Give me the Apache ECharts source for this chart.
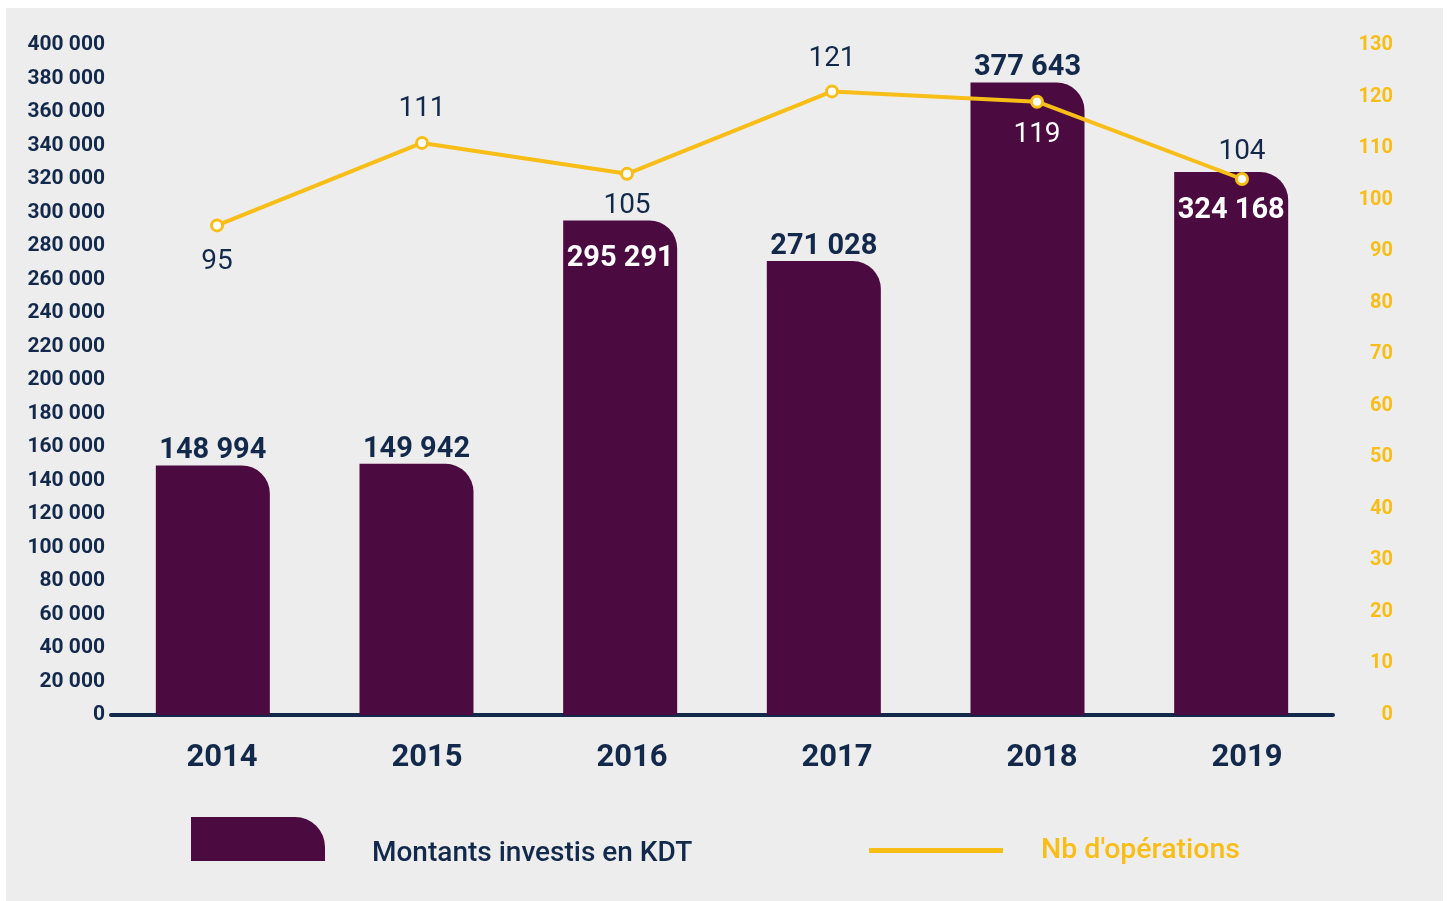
<!DOCTYPE html>
<html>
<head>
    <meta charset="utf-8">
    <title>Montants investis</title>
    <script src="https://cdn.jsdelivr.net/npm/echarts@6/dist/echarts.min.js"></script>
    <style>
        body { margin: 0; background: #ffffff; }
        #chart { position: absolute; left: 6px; top: 8px; width: 1437px; height: 893px; }
    </style>
</head>
<body>
<div id="chart"></div>
<script type="text/javascript">
    // données
    var years = ['2014', '2015', '2016', '2017', '2018', '2019'];
    var montants = [148994, 149942, 295291, 271028, 377643, 324168];
    var operations = [95, 111, 105, 121, 119, 104];

    // placement des étiquettes
    var barLabelInside = [false, false, true, false, false, true];
    var lineLabelBelow = [true, false, true, false, true, false];
    var lineLabelDist = [16, 13, 11, 11, 12, 6];

    var NAVY = '#13294b';
    var PURPLE = '#4b0a40';
    var YELLOW = '#f8bd17';
    var FONT = 'Roboto';
    var BAR_NAME = 'Montants investis en KDT';
    var LINE_NAME = 'Nb d\'opérations';

    function fmt(v) {
        return String(v).replace(/\B(?=(\d{3})+(?!\d))/g, ' ');
    }

    var barData = montants.map(function (v, i) {
        var inside = barLabelInside[i];
        return {
            value: v,
            label: {
                position: inside ? 'insideTop' : 'top',
                distance: inside ? 24 : 0,
                color: inside ? '#ffffff' : NAVY
            }
        };
    });

    var lineData = operations.map(function (v, i) {
        var below = lineLabelBelow[i];
        return {
            value: v,
            label: {
                position: below ? 'bottom' : 'top',
                distance: lineLabelDist[i],
                color: (i === 4) ? '#ffffff' : NAVY
            }
        };
    });

    var chart = echarts.init(document.getElementById('chart'));
    chart.setOption({
        backgroundColor: '#ededed',
        animation: false,
        textStyle: { fontFamily: FONT },
        grid: [
            { left: 105, right: 110, top: 37, bottom: 186 },
            // la courbe est un peu décalée par rapport aux barres
            { left: 108.5, right: 98.5, top: 37, bottom: 186 }
        ],
        legend: [{
            // icône de la barre
            data: [BAR_NAME],
            left: 180, top: 804,
            itemWidth: 134, itemHeight: 44,
            icon: 'path://M0,0 H104 A30,30 0 0 1 134,30 V44 H0 Z',
            formatter: function () { return ''; }
        }, {
            // texte de la barre
            data: [BAR_NAME],
            left: 355, top: 826,
            itemWidth: 1, itemHeight: 30,
            icon: 'rect',
            itemStyle: { opacity: 0 },
            textStyle: { color: NAVY, fontSize: 28, fontWeight: 500, fontFamily: FONT }
        }, {
            data: [LINE_NAME],
            left: 858, top: 823,
            itemWidth: 134, itemHeight: 5,
            icon: 'rect',
            itemStyle: { color: YELLOW, borderColor: YELLOW, borderWidth: 0 },
            textStyle: { color: YELLOW, fontSize: 28.5, fontWeight: 500, fontFamily: FONT, padding: [0, 0, 0, 33] }
        }],
        xAxis: [{
            type: 'category',
            gridIndex: 0,
            data: years,
            axisLine: { lineStyle: { color: NAVY, width: 4 } },
            axisTick: { show: false },
            axisLabel: { show: false }
        }, {
            type: 'category',
            gridIndex: 1,
            data: years,
            axisLine: { show: false },
            axisTick: { show: false },
            axisLabel: { color: NAVY, fontSize: 31, fontWeight: 'bold', margin: 28, padding: [0, 0, 0, 10], fontFamily: FONT }
        }],
        yAxis: [{
            type: 'value',
            gridIndex: 0,
            min: 0, max: 400000, interval: 20000,
            splitLine: { show: false },
            axisLine: { show: false },
            axisTick: { show: false },
            axisLabel: {
                color: NAVY, fontSize: 21, fontWeight: 'bold', margin: 6, fontFamily: FONT,
                formatter: function (v) { return fmt(v); }
            }
        }, {
            type: 'value',
            gridIndex: 0,
            position: 'right',
            min: 0, max: 130, interval: 10,
            splitLine: { show: false },
            axisLine: { show: false },
            axisTick: { show: false },
            axisLabel: { color: YELLOW, fontSize: 20, fontWeight: 'bold', margin: 60, align: 'right', fontFamily: FONT }
        }, {
            type: 'value',
            gridIndex: 1,
            min: 0, max: 130, interval: 10,
            show: false
        }],
        series: [{
            name: BAR_NAME,
            type: 'bar',
            xAxisIndex: 0,
            yAxisIndex: 0,
            data: barData,
            barWidth: 114,
            itemStyle: { color: PURPLE, borderRadius: [0, 28, 0, 0] },
            label: {
                show: true,
                fontSize: 29, fontWeight: 'bold', fontFamily: FONT,
                formatter: function (p) { return fmt(p.value); }
            }
        }, {
            name: LINE_NAME,
            type: 'line',
            xAxisIndex: 1,
            yAxisIndex: 2,
            data: lineData,
            symbol: 'circle',
            symbolSize: 11,
            lineStyle: { color: YELLOW, width: 4 },
            itemStyle: { color: '#ffffff', borderColor: YELLOW, borderWidth: 3 },
            label: { show: true, fontSize: 28, fontFamily: FONT }
        }]
    });
</script>
</body>
</html>
